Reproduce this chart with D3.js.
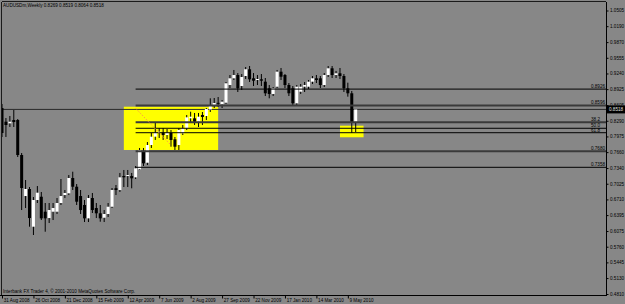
<!DOCTYPE html>
<html>
<head>
<meta charset="utf-8">
<script src="https://cdn.jsdelivr.net/npm/d3@7"></script>
<style>
body { margin: 0; background: #878787; }
svg { display: block; }
text { font-family: "Liberation Sans", Arial, sans-serif; }
</style>
</head>
<body>
<svg width="625" height="304"></svg>
<script>
// weekly bars, AUDUSDm, 31 Aug 2008 .. 23 May 2010
var firstWeek = "31 Aug 2008", lastWeek = "23 May 2010";

var opens = [0.8546,0.8271,0.8238,0.8305,0.8305,0.7602,0.6778,0.6919,0.6162,0.6698,
  0.6764,0.6463,0.6336,0.6463,0.6463,0.6638,0.6798,0.6833,0.7140,0.6965,
  0.6778,0.6598,0.6330,0.6738,0.6537,0.6431,0.6342,0.6417,0.6563,0.6935,
  0.6899,0.7180,0.7180,0.7180,0.7154,0.7315,0.7669,0.7447,0.7803,0.7970,
  0.8050,0.8050,0.8004,0.8044,0.7918,0.7803,0.8038,0.8138,0.8339,0.8339,
  0.8271,0.8406,0.8386,0.8516,0.8607,0.8650,0.8621,0.8653,0.9008,0.9143,
  0.9209,0.8988,0.9189,0.9324,0.9143,0.9109,0.9123,0.9075,0.8942,0.8828,
  0.8974,0.9276,0.9209,0.9008,0.8942,0.8641,0.8874,0.8974,0.8974,0.9075,
  0.9143,0.9143,0.9008,0.9209,0.9344,0.9209,0.9244,0.9189,0.8942,0.8842,
  0.8269];
var highs = [0.8627,0.8345,0.8386,0.8506,0.8325,0.7642,0.7100,0.6959,0.6758,0.6979,
  0.6859,0.6638,0.6638,0.6638,0.6738,0.7120,0.6899,0.7200,0.7267,0.7019,
  0.6899,0.6698,0.6798,0.6839,0.6638,0.6598,0.6497,0.6638,0.6939,0.6999,
  0.7241,0.7301,0.7301,0.7241,0.7381,0.7743,0.7743,0.7863,0.8044,0.8245,
  0.8144,0.8144,0.8124,0.8104,0.7964,0.8144,0.8205,0.8406,0.8472,0.8446,
  0.8446,0.8466,0.8546,0.8741,0.8747,0.8767,0.8707,0.9069,0.9209,0.9310,
  0.9249,0.9229,0.9370,0.9390,0.9249,0.9209,0.9229,0.9149,0.9008,0.8968,
  0.9310,0.9350,0.9229,0.9048,0.8988,0.9008,0.9028,0.9069,0.9109,0.9189,
  0.9209,0.9189,0.9249,0.9390,0.9390,0.9290,0.9350,0.9229,0.9055,0.8888,
  0.8519];
var lows = [0.7964,0.7964,0.8165,0.8165,0.7562,0.6497,0.6537,0.6162,0.5995,0.6638,
  0.6296,0.6061,0.6236,0.6296,0.6417,0.6598,0.6738,0.6798,0.6899,0.6598,
  0.6417,0.6256,0.6256,0.6437,0.6336,0.6262,0.6256,0.6356,0.6537,0.6798,
  0.6859,0.6959,0.6959,0.6933,0.7120,0.7301,0.7381,0.7401,0.7743,0.7904,
  0.7944,0.7904,0.7924,0.7769,0.7703,0.7703,0.8004,0.8104,0.8245,0.8205,
  0.8165,0.8205,0.8305,0.8466,0.8546,0.8566,0.8546,0.8627,0.8948,0.9109,
  0.8868,0.8908,0.9129,0.9069,0.8988,0.9008,0.8988,0.8787,0.8741,0.8787,
  0.8948,0.9109,0.8948,0.8787,0.8607,0.8607,0.8828,0.8868,0.8928,0.9028,
  0.9048,0.8948,0.8968,0.9169,0.9149,0.9149,0.9129,0.8868,0.8774,0.8044,
  0.8064];
var closes = [0.8044,0.8205,0.8271,0.8265,0.7602,0.6939,0.6919,0.6336,0.6698,0.6845,
  0.6330,0.6330,0.6497,0.6537,0.6638,0.6778,0.6839,0.7140,0.6965,0.6664,
  0.6497,0.6330,0.6738,0.6497,0.6431,0.6330,0.6417,0.6563,0.6899,0.6899,
  0.7154,0.7154,0.7200,0.7134,0.7335,0.7703,0.7435,0.7803,0.7970,0.8050,
  0.8070,0.8004,0.8050,0.7904,0.7769,0.8104,0.8138,0.8359,0.8372,0.8271,
  0.8372,0.8366,0.8526,0.8607,0.8647,0.8640,0.8673,0.9043,0.9143,0.9209,
  0.8942,0.9169,0.9324,0.9123,0.9095,0.9129,0.9095,0.8842,0.8828,0.8942,
  0.9276,0.9175,0.9008,0.8842,0.8641,0.8974,0.8974,0.9008,0.9075,0.9143,
  0.9109,0.9008,0.9209,0.9344,0.9209,0.9244,0.9189,0.8942,0.8842,0.8269,
  0.8518];

var priceTicks = [1.0505,1.0190,0.9870,0.9555,0.9240,0.8925,0.8605,0.8290,0.7975,0.7660,
  0.7340,0.7025,0.6710,0.6395,0.6075,0.5760,0.5445,0.5130,0.4810];
var dateTicks = ["31 Aug 2008","26 Oct 2008","21 Dec 2008","15 Feb 2009","12 Apr 2009","7 Jun 2009",
  "2 Aug 2009","27 Sep 2009","22 Nov 2009","17 Jan 2010","14 Mar 2010","9 May 2010"];

// drawn objects
var levelPrices = [0.8926, 0.8596, 0.8259, 0.8139, 0.8050, 0.7680, 0.7355];
var levelLabels = ["0.8926", "0.8596", "38.2", "50.0", "61.8", "0.7680", "0.7358"];
var levelFrom = "26 Apr 2009";
var bidPrice = 0.8518;
var zoneFrom = ["5 Apr 2009", "25 Apr 2010"];
var zoneTo = ["20 Sep 2009", "6 Jun 2010"];
var zoneHigh = [0.8572, 0.8191];
var zoneLow = [0.7703, 0.7958];
var trendDates = ["26 Apr 2009", "28 Jun 2009"];
var trendPrices = [0.8540, 0.7800];

var parse = d3.timeParse("%d %b %Y");
var weeks = d3.timeWeek.range(parse(firstWeek), d3.timeDay.offset(parse(lastWeek), 1));
var bars = weeks.map(function(d, i) {
  return {date: d, o: opens[i], h: highs[i], l: lows[i], c: closes[i]};
});

var svg = d3.select("svg");
var plotL = 2, plotR = 606, plotT = 2, plotB = 295;

var x = d3.scaleTime().domain([parse(firstWeek), parse(lastWeek)]).range([2, 355.7]);
var y = d3.scaleLinear().domain([0.4810, 1.0505]).range([294, 10.5]);

svg.append("rect").attr("width", 625).attr("height", 304).attr("fill", "#878787");

svg.append("clipPath").attr("id", "plot")
  .append("rect").attr("x", plotL).attr("y", plotT)
  .attr("width", plotR - plotL).attr("height", plotB - plotT);

var g = svg.append("g").attr("clip-path", "url(#plot)");

// yellow zones (background objects)
g.selectAll(".zone")
  .data(zoneHigh)
  .enter()
  .append("rect")
    .attr("class", "zone")
    .attr("x", function(d, i) {return x(parse(zoneFrom[i]));})
    .attr("y", function(d) {return y(d);})
    .attr("width", function(d, i) {return x(parse(zoneTo[i])) - x(parse(zoneFrom[i]));})
    .attr("height", function(d, i) {return y(zoneLow[i]) - y(d);})
    .attr("fill", "#ffff00");

// bid line
g.append("line")
  .attr("x1", plotL).attr("x2", plotR)
  .attr("y1", y(bidPrice)).attr("y2", y(bidPrice))
  .attr("stroke", "#2a2a2a").attr("stroke-width", 1);

// candles
var candle = g.selectAll(".bar")
  .data(bars)
  .enter()
  .append("g")
    .attr("class", "bar");

candle.append("line")
  .attr("x1", function(d) {return x(d.date);})
  .attr("x2", function(d) {return x(d.date);})
  .attr("y1", function(d) {return y(d.h);})
  .attr("y2", function(d) {return y(d.l);})
  .attr("stroke", "#000")
  .attr("stroke-width", 1);

candle.append("rect")
  .attr("x", function(d) {return x(d.date) - 1.5;})
  .attr("y", function(d) {return y(Math.max(d.o, d.c));})
  .attr("width", 3)
  .attr("height", function(d) {return Math.max(1, Math.abs(y(d.o) - y(d.c)));})
  .attr("fill", function(d) {return d.c >= d.o ? "#ffffff" : "#000000";});

// horizontal levels
var thick = {"0.8596": 1, "38.2": 1, "0.7680": 1};
g.selectAll(".level")
  .data(levelPrices)
  .enter()
  .append("line")
    .attr("class", "level")
    .attr("x1", x(parse(levelFrom)))
    .attr("x2", plotR)
    .attr("y1", function(d) {return y(d);})
    .attr("y2", function(d) {return y(d);})
    .attr("stroke", function(d, i) {return thick[levelLabels[i]] ? "#3a3a3a" : "#000";})
    .attr("stroke-width", function(d, i) {return thick[levelLabels[i]] ? 2 : 1;});

g.selectAll(".levelLabel")
  .data(levelPrices)
  .enter()
  .append("text")
    .attr("class", "levelLabel")
    .attr("x", function(d, i) {return levelLabels[i].length < 5 ? 600 : 605;})
    .attr("y", function(d) {return y(d) - 1.2;})
    .attr("text-anchor", "end")
    .attr("font-size", 4.6)
    .attr("fill", "#000")
    .text(function(d, i) {return levelLabels[i];});

// fibo trend line
g.append("line")
  .attr("x1", x(parse(trendDates[0]))).attr("y1", y(trendPrices[0]))
  .attr("x2", x(parse(trendDates[1]))).attr("y2", y(trendPrices[1]))
  .attr("stroke", "#ff9a4a").attr("stroke-width", 1)
  .attr("stroke-dasharray", "1.5,1.5");

// frame
svg.append("line").attr("x1", plotL).attr("x2", plotR).attr("y1", plotT - 0.5).attr("y2", plotT - 0.5)
  .attr("stroke", "#1a1a1a");
svg.append("line").attr("x1", plotL - 0.5).attr("x2", plotL - 0.5).attr("y1", plotT).attr("y2", plotB)
  .attr("stroke", "#1a1a1a");
svg.append("line").attr("x1", plotR + 0.5).attr("x2", plotR + 0.5).attr("y1", plotT).attr("y2", plotB)
  .attr("stroke", "#000");
svg.append("line").attr("x1", 0).attr("x2", plotR + 1).attr("y1", plotB + 0.5).attr("y2", plotB + 0.5)
  .attr("stroke", "#000");

// price axis
var ya = svg.append("g")
  .attr("transform", "translate(" + (plotR + 0.5) + ",0)")
  .call(d3.axisRight(y).tickValues(priceTicks).tickFormat(d3.format(".4f")).tickSize(2).tickPadding(1.5));
ya.select(".domain").remove();
ya.selectAll("text").attr("font-size", 4.6).attr("font-family", "Liberation Sans, Arial, sans-serif").attr("fill", "#000");
ya.selectAll("line").attr("stroke", "#000");

// bid price box
svg.append("rect").attr("x", plotR + 1).attr("y", y(bidPrice) - 4).attr("width", 18).attr("height", 8)
  .attr("fill", "#000");
svg.append("text").attr("x", plotR + 3).attr("y", y(bidPrice) + 1.6)
  .attr("font-size", 4.6).attr("fill", "#e0e0e0").text(d3.format(".4f")(bidPrice));

// time axis
var xa = svg.append("g")
  .attr("transform", "translate(0," + (plotB + 0.5) + ")")
  .call(d3.axisBottom(x).tickValues(dateTicks.map(parse))
    .tickFormat(d3.timeFormat("%-d %b %Y")).tickSize(3));
xa.select(".domain").remove();
xa.selectAll("line").attr("stroke", "#000");
xa.selectAll("text")
  .attr("text-anchor", "start")
  .attr("x", 1.2)
  .attr("y", 2.8)
  .attr("dy", "0.71em")
  .attr("font-size", 4.6)
  .attr("font-family", "Liberation Sans, Arial, sans-serif")
  .attr("fill", "#000");

// texts
svg.append("text").attr("x", 3).attr("y", 7.4).attr("font-size", 4.6).attr("fill", "#000")
  .text("AUDUSDm,Weekly  0.8269 0.8519 0.8064 0.8518");
svg.append("text").attr("x", 3).attr("y", 293).attr("font-size", 4.6).attr("fill", "#000")
  .text("Interbank FX Trader 4, \u00a9 2001-2010 MetaQuotes Software Corp.");
</script>
</body>
</html>
